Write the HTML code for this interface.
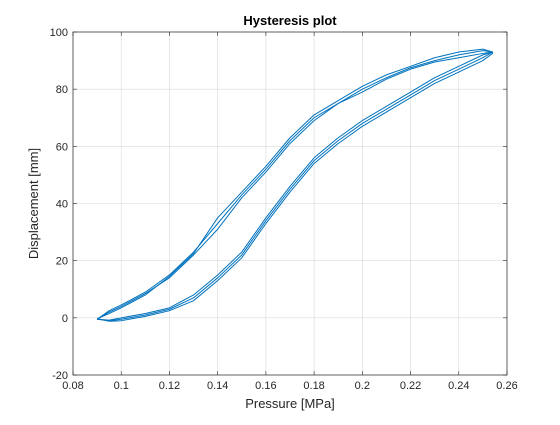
<!DOCTYPE html>
<html><head><meta charset="utf-8"><style>
body{margin:0;background:#fff;width:560px;height:420px;overflow:hidden}
svg{font-family:"Liberation Sans",Arial,sans-serif}
</style></head><body>
<svg id="chart" width="560" height="420" viewBox="0 0 560 420"></svg>
<script>
const xTicks=[0.08,0.1,0.12,0.14,0.16,0.18,0.2,0.22,0.24,0.26];
const yTicks=[-20,0,20,40,60,80,100];
const xTickLabels=["0.08","0.1","0.12","0.14","0.16","0.18","0.2","0.22","0.24","0.26"];
const yTickLabels=["-20","0","20","40","60","80","100"];
// loading branch (upper/left)
const upP=[0.09,0.095,0.1,0.11,0.12,0.13,0.14,0.15,0.16,0.17,0.18,0.19,0.2,0.21,0.22,0.23,0.24,0.25,0.254];
const upD1=[-0.5,2.5,4.5,9,15,23,33,43,52,62,70,75,80,84,87.5,90,92,93.5,93];
const upD2=[-0.5,2,4,8.5,14,22,31,42,51,61,69,75,79,83.5,87,89.5,91,92.5,93];
const upD3=[-0.3,1.5,3.5,8,14.5,22.5,35,44,53,63,71,76,81,85,88,91,93,94,93];
// unloading branch (lower/right)
const dnP=[0.254,0.25,0.24,0.23,0.22,0.21,0.2,0.19,0.18,0.17,0.16,0.15,0.14,0.13,0.12,0.11,0.1,0.095,0.09];
const dnD1=[93,91,87,83,78,73,68,62,55,45,34,22,14,7,3,1,-0.5,-1,-0.5];
const dnD2=[93,92,88,84,79,74,69,63,56,46,35,23,15,8,3.5,1.5,0,-0.8,-0.5];
const dnD3=[92.5,90,86,82,77,72,67,61,54,44,33,21,13,6,2.5,0.5,-1,-1.2,-0.3];

const svg=document.getElementById('chart');
const NS='http://www.w3.org/2000/svg';
const L=73,R=507,T=32,B=375;
const xs=v=>L+(v-0.08)/(0.26-0.08)*(R-L);
const ys=v=>B-(v+20)/120*(B-T);
function mk(tag,attrs,parent){const e=document.createElementNS(NS,tag);for(const k in attrs)e.setAttribute(k,attrs[k]);(parent||svg).appendChild(e);return e;}
const bg=mk('rect',{x:L,y:T,width:R-L,height:B-T,fill:'#fff'});


xTicks.forEach((t,i)=>{const x=xs(t);
 const g=mk('line',{x1:x,x2:x,y1:T,y2:B,stroke:'#000','stroke-opacity':0.15,'stroke-width':0.6});
 
 
 mk('line',{x1:x,x2:x,y1:B,y2:B-4,stroke:'#262626','stroke-width':0.6});
 mk('line',{x1:x,x2:x,y1:T,y2:T+4,stroke:'#262626','stroke-width':0.6});
 const tx=mk('text',{x:x,y:B+14,'text-anchor':'middle','font-size':11,fill:'#262626'});tx.textContent=xTickLabels[i];
 
 
});
yTicks.forEach((t,i)=>{const y=ys(t);
 const g=mk('line',{x1:L,x2:R,y1:y,y2:y,stroke:'#000','stroke-opacity':0.15,'stroke-width':0.6});
 
 
 mk('line',{x1:L,x2:L+4,y1:y,y2:y,stroke:'#262626','stroke-width':0.6});
 mk('line',{x1:R,x2:R-4,y1:y,y2:y,stroke:'#262626','stroke-width':0.6});
 const tx=mk('text',{x:L-5,y:y+4,'text-anchor':'end','font-size':11,fill:'#262626'});tx.textContent=yTickLabels[i];
 
 
});
const box=mk('rect',{x:L,y:T,width:R-L,height:B-T,fill:'none',stroke:'#262626','stroke-width':0.7});


[[upD1,dnD1],[upD2,dnD2],[upD3,dnD3]].forEach(([u,d],c)=>{
 let pts=upP.map((p,i)=>xs(p)+','+ys(u[i])).concat(dnP.map((p,i)=>xs(p)+','+ys(d[i])));
 const pl=mk('polyline',{points:pts.join(' '),fill:'none',stroke:'#0072BD','stroke-width':1,'stroke-linejoin':'round'});
 
 
});
const title=mk('text',{x:(L+R)/2,y:T-7,'text-anchor':'middle','font-size':13,'font-weight':'bold',fill:'#000'});title.textContent='Hysteresis plot';


const xl=mk('text',{x:(L+R)/2,y:B+33,'text-anchor':'middle','font-size':13,fill:'#262626'});xl.textContent='Pressure [MPa]';


const yl=mk('text',{x:0,y:0,'text-anchor':'middle','font-size':13,fill:'#262626',transform:`translate(38,${(T+B)/2}) rotate(-90)`});yl.textContent='Displacement [mm]';


</script>
</body></html>
